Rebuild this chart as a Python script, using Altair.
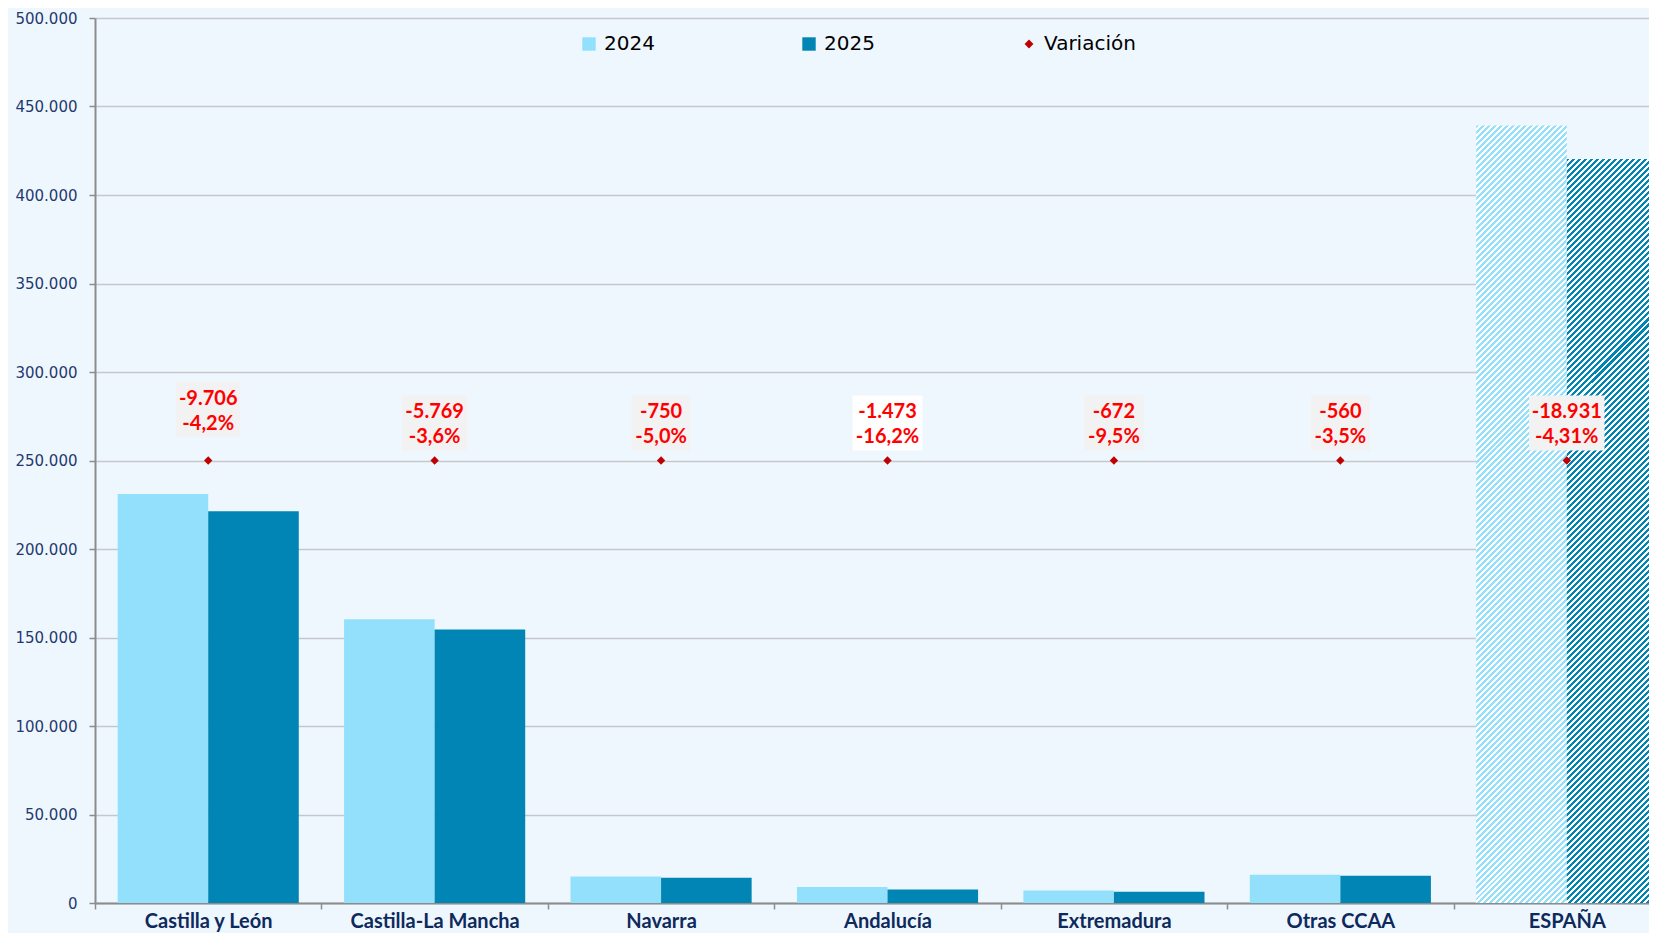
import altair as alt
import pandas as pd

# ---------------- data ----------------
regions = ["Castilla y León", "Castilla-La Mancha", "Navarra", "Andalucía",
           "Extremadura", "Otras CCAA", "ESPAÑA"]
years = ["2024", "2025"]
v2024 = [231095, 160250, 15000, 9093, 7074, 16000, 439234]
v2025 = [221389, 154481, 14250, 7620, 6402, 15440, 420303]
var_abs = [-9706, -5769, -750, -1473, -672, -560, -18931]
var_pct = ["-4,2%", "-3,6%", "-5,0%", "-16,2%", "-9,5%", "-3,5%", "-4,31%"]
marker_level = [250000] * 7
y_ticks = list(range(0, 500001, 50000))
legend_items = ["2024", "2025", "Variación"]

# ---------------- layout constants ----------------
W_PLOT, H_PLOT, X_RANGE = 1554, 885, 1585
Y_MAX = 500000
C24, C25, CRED = "#93E0FD", "#0085B5", "#C00000"
BG = "#EFF7FE"

rows = []
for r, a, b in zip(regions, v2024, v2025):
    rows.append({"region": r, "year": "2024", "value": a})
    rows.append({"region": r, "year": "2025", "value": b})
bars = pd.DataFrame(rows)
leg_df = pd.DataFrame({"year": legend_items})


def fmt_int(v):
    return f"{v:,}".replace(",", ".")


labels = pd.DataFrame({
    "region": regions,
    "value": marker_level,
    "label": [fmt_int(a) + "\n" + p for a, p in zip(var_abs, var_pct)],
})

# label box widths from text length (bold ~20px)
cw = {"-": 0.34, ".": 0.25, ",": 0.25, "%": 0.80}


def text_w(s):
    return sum(cw.get(c, 0.55) for c in s) * 19


step = X_RANGE / len(regions)
bar_w = step * 0.8 / 2


def hatch(color, value):
    Wb = bar_w
    Hb = value * H_PLOT / Y_MAX
    k = (Wb + Hb) / (Hb + Wb * Wb / Hb)
    n = int(round((Wb + Hb) / 6.0))
    stops = []
    for i in range(n):
        o0, o1, o2 = i / n, (i + 0.5) / n, (i + 1) / n
        stops += [{"offset": round(o0, 5), "color": color},
                  {"offset": round(o1, 5), "color": color},
                  {"offset": round(o1, 5), "color": "#FFFFFF"},
                  {"offset": round(o2, 5), "color": "#FFFFFF"}]
    return {"gradient": "linear", "x1": 0, "y1": 0,
            "x2": round(k * Wb / Hb, 5), "y2": round(k, 5), "stops": stops}


# ---------------- encodings ----------------
x_enc = alt.X("region:N", sort=regions,
              scale=alt.Scale(domain=regions, range=[0, X_RANGE],
                              paddingInner=0, paddingOuter=0, round=False),
              axis=alt.Axis(title=None, labelAngle=0, tickBand="extent",
                            labelFont="Lato", labelFontWeight="bold",
                            labelFontSize=20, labelColor="#0E2A5C",
                            labelBaseline="top",
                            labelPadding=2, tickSize=6, tickColor="#8C8C8C",
                            tickWidth=1.5, domainColor="#8C8C8C",
                            domainWidth=2, grid=False))
y_enc = alt.Y("value:Q",
              scale=alt.Scale(domain=[0, Y_MAX], nice=False, zero=True),
              axis=alt.Axis(title=None, values=y_ticks,
                            labelExpr="replace(format(datum.value, ','), ',', '.')",
                            labelFont="DejaVu Sans", labelFontSize=15,
                            labelColor="#1F3A70", labelPadding=12,
                            tickSize=6, tickColor="#8C8C8C", tickWidth=1.5,
                            domainColor="#8C8C8C", domainWidth=2,
                            grid=True, gridColor="#C4C8CC", gridWidth=1.5))
xo_enc = alt.XOffset("year:N", scale=alt.Scale(domain=years, paddingOuter=0.25,
                                                 paddingInner=0, round=False))
color_scale = alt.Scale(domain=legend_items, range=[C24, C25, CRED])
shape_scale = alt.Scale(domain=legend_items,
                        range=["square", "square",
                               "M0,-0.66L0.66,0L0,0.66L-0.66,0Z"])


def make_legend():
    return alt.Legend(
        title=None, orient="none", legendX=484, legendY=16,
        direction="horizontal", columns=3, gridAlign="all", columnPadding=103,
        symbolStrokeWidth=0, symbolOpacity=1, symbolSize=180,
        labelFont="DejaVu Sans", labelFontSize=20, labelColor="#000000",
        labelOffset=5)


# legend layer (points drawn off-canvas)
leg_layer = alt.Chart(leg_df).mark_point(filled=True, opacity=1, size=180).encode(
    x=alt.value(-600), y=alt.value(-600),
    color=alt.Color("year:N", scale=color_scale, legend=make_legend()),
    shape=alt.Shape("year:N", scale=shape_scale, legend=make_legend()),
)

solid = alt.Chart(bars).transform_filter(
    alt.datum.region != "ESPAÑA"
).mark_bar(stroke=None).encode(
    x=x_enc, y=y_enc, xOffset=xo_enc,
    color=alt.Color("year:N", scale=color_scale, legend=make_legend()),
)

h24 = alt.Chart(bars).transform_filter(
    (alt.datum.region == "ESPAÑA") & (alt.datum.year == "2024")
).mark_bar(fill=hatch(C24, v2024[-1]), stroke=None).encode(
    x=x_enc, y=y_enc, xOffset=xo_enc)

h25 = alt.Chart(bars).transform_filter(
    (alt.datum.region == "ESPAÑA") & (alt.datum.year == "2025")
).mark_bar(fill=hatch(C25, v2025[-1]), stroke=None).encode(
    x=x_enc, y=y_enc, xOffset=xo_enc)

# label boxes: one layer per region (box size follows the text)
box_layers = []
for r, a, p in zip(regions, var_abs, var_pct):
    w = max(text_w(fmt_int(a)), text_w(p)) + 12
    hw, hh = w / 2, 27.5
    path = f"M{-hw:.1f},{-hh:.1f}H{hw:.1f}V{hh:.1f}H{-hw:.1f}Z"
    off = -51.5 if r == regions[0] else -37.5
    fill = "#FFFFFF" if r == "Andalucía" else "#F2F2F2"
    box_layers.append(
        alt.Chart(labels).transform_filter(alt.datum.region == r).mark_point(
            shape=path, filled=True, size=4, opacity=1, strokeWidth=0,
            fill=fill, yOffset=off
        ).encode(x=x_enc, y=y_enc))

first = alt.datum.region == regions[0]
txt_kw = dict(font="Lato", fontWeight="bold", fontSize=20, color="#FF0000",
              lineBreak="\n", lineHeight=25, align="center", baseline="middle")
txt_a = alt.Chart(labels).transform_filter(first).mark_text(
    yOffset=-62, **txt_kw).encode(x=x_enc, y=y_enc, text="label:N")
txt_b = alt.Chart(labels).transform_filter(~first).mark_text(
    yOffset=-48.5, **txt_kw).encode(x=x_enc, y=y_enc, text="label:N")

diam = alt.Chart(labels).mark_point(
    shape="diamond", filled=True, size=70, color=CRED, opacity=1
).encode(x=x_enc, y=y_enc)

chart = alt.layer(leg_layer, solid, h24, h25, *box_layers, txt_a, txt_b,
                  diam).properties(
    width=W_PLOT, height=H_PLOT,
    padding={"left": 87, "top": 10, "right": 0, "bottom": 30},
    autosize=alt.AutoSizeParams(type="none"),
    background=BG,
).configure_view(stroke=None)

chart.save("out.html", embed_options={"renderer": "svg", "actions": False})
